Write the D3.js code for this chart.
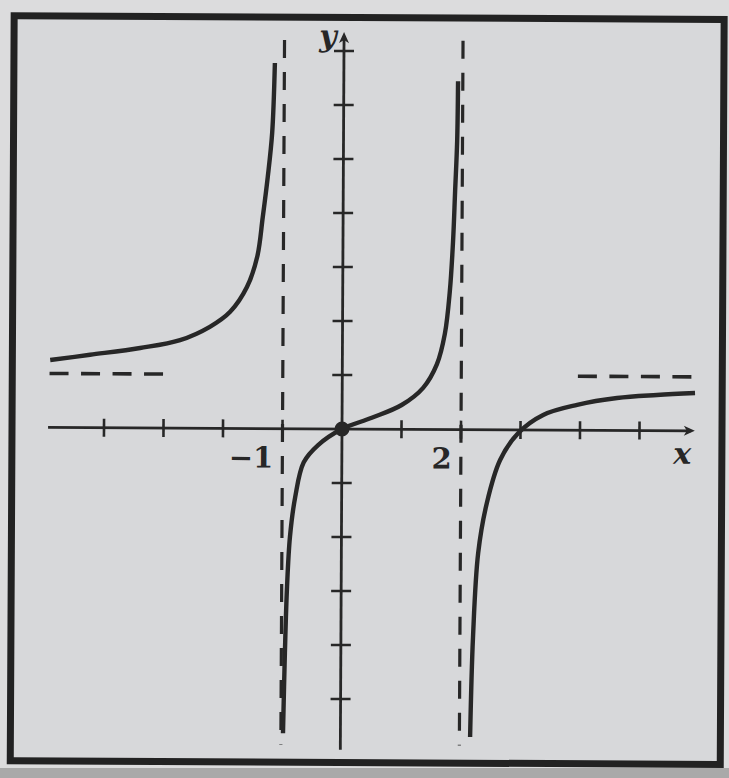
<!DOCTYPE html>
<html>
<head>
<meta charset="utf-8">
<script src="https://cdn.jsdelivr.net/npm/d3@7"></script>
<style>
  html, body { margin: 0; padding: 0; background: #dcdcdd; }
  svg { display: block; }
</style>
</head>
<body>
<svg id="chart" width="729" height="778"></svg>
<script>
// Graph of a rational function with vertical asymptotes x = -1, x = 2
// and horizontal asymptote y = 1.

const xTicks = [-4, -3, -2, -1, 1, 2, 3, 4, 5];
const yTicks = [-5, -4, -3, -2, -1, 1, 2, 3, 4, 5, 6, 7];
const xLabels = [{ v: -1, t: "\u22121" }, { v: 2, t: "2" }];

const verticalAsymptotes = [-1, 2];
const horizontalAsymptote = 1;
const hAsymSpans = [[-4.92, -2.98], [3.96, 5.97]];

// branch left of x = -1
const leftBranch = [
  [-4.91, 1.25], [-4.24, 1.35], [-3.40, 1.48], [-2.73, 1.63], [-2.23, 1.88],
  [-1.89, 2.16], [-1.61, 2.62], [-1.44, 3.18], [-1.35, 3.92], [-1.27, 4.66],
  [-1.20, 5.47], [-1.16, 6.77]
];
// branch between x = -1 and x = 2, through the origin
const middleBranch = [
  [-0.965, -5.64], [-0.94, -4.15], [-0.91, -2.93], [-0.865, -2.0], [-0.78, -1.26],
  [-0.64, -0.62], [-0.40, -0.30], [0, 0], [0.50, 0.21], [1.0, 0.45],
  [1.36, 0.77], [1.59, 1.21], [1.72, 1.77], [1.80, 2.56], [1.85, 3.49],
  [1.88, 4.41], [1.91, 5.34], [1.92, 6.45]
];
// branch right of x = 2
const rightBranch = [
  [2.18, -5.69], [2.22, -3.84], [2.30, -2.28], [2.44, -1.36], [2.66, -0.56],
  [2.96, -0.06], [3.38, 0.28], [3.95, 0.47], [4.62, 0.60], [5.29, 0.66],
  [5.93, 0.70]
];

const xAxisExtent = [-4.94, 5.93];
const yAxisExtent = [-5.94, 7.35];
const vAsymExtent = [-5.85, 7.2];

const ink = "#272727";
const serif = "'DejaVu Serif', 'Liberation Serif', serif";
const svg = d3.select("#chart");

// paper
svg.append("rect").attr("x", 0).attr("y", 0).attr("width", 729).attr("height", 778)
  .attr("fill", "#dcdcdd");
svg.append("rect").attr("x", 0).attr("y", 768).attr("width", 729).attr("height", 10)
  .attr("fill", "#a9a9a9");

const x = d3.scaleLinear().domain([-5, 6]).range([342 - 5 * 59.5, 342 + 6 * 59.5]);
const y = d3.scaleLinear().domain([-6, 7]).range([429 + 6 * 54, 429 - 7 * 54]);

const g = svg.append("g").attr("transform", `rotate(0.3, ${x(0)}, ${y(0)})`);

// frame
g.append("rect")
  .attr("x", 12).attr("y", 17.5).attr("width", 710).attr("height", 745)
  .attr("fill", "#d7d8da").attr("stroke", "#222").attr("stroke-width", 7);

// asymptotes
g.selectAll(".vasym").data(verticalAsymptotes).join("line")
  .attr("x1", d => x(d)).attr("x2", d => x(d))
  .attr("y1", y(vAsymExtent[1])).attr("y2", y(vAsymExtent[0]))
  .attr("stroke", ink).attr("stroke-width", 3.2)
  .attr("stroke-dasharray", "18 14");

g.selectAll(".hasym").data(hAsymSpans).join("line")
  .attr("x1", d => x(d[0])).attr("x2", d => x(d[1]))
  .attr("y1", y(horizontalAsymptote)).attr("y2", y(horizontalAsymptote))
  .attr("stroke", ink).attr("stroke-width", 3.6)
  .attr("stroke-dasharray", "19 12.5");

// axes
g.append("line")
  .attr("x1", x(xAxisExtent[0])).attr("x2", x(xAxisExtent[1]) - 4)
  .attr("y1", y(0)).attr("y2", y(0))
  .attr("stroke", ink).attr("stroke-width", 2.8);
g.append("line")
  .attr("x1", x(0)).attr("x2", x(0))
  .attr("y1", y(yAxisExtent[0])).attr("y2", y(yAxisExtent[1]) + 4)
  .attr("stroke", ink).attr("stroke-width", 2.8);

// arrow heads
const xe = x(xAxisExtent[1]), ye = y(yAxisExtent[1]);
g.append("path")
  .attr("d", `M${xe},${y(0)} L${xe - 11},${y(0) - 5} L${xe - 8},${y(0)} L${xe - 11},${y(0) + 5} Z`)
  .attr("fill", ink);
g.append("path")
  .attr("d", `M${x(0)},${ye} L${x(0) - 5},${ye + 11} L${x(0)},${ye + 8} L${x(0) + 5},${ye + 11} Z`)
  .attr("fill", ink);

// ticks
g.selectAll(".xtick").data(xTicks).join("line")
  .attr("x1", d => x(d)).attr("x2", d => x(d))
  .attr("y1", y(0) - 9).attr("y2", y(0) + 9)
  .attr("stroke", ink).attr("stroke-width", 2.6);
g.selectAll(".ytick").data(yTicks).join("line")
  .attr("x1", x(0) - 10).attr("x2", x(0) + 10)
  .attr("y1", d => y(d)).attr("y2", d => y(d))
  .attr("stroke", ink).attr("stroke-width", 2.4);

// tick labels
g.selectAll(".xlab").data(xLabels).join("text")
  .attr("x", d => x(d.v) - 9).attr("y", y(0) + 39)
  .attr("text-anchor", "end")
  .attr("font-family", serif)
  .attr("font-weight", "bold").attr("font-size", 29)
  .attr("fill", ink)
  .text(d => d.t);

// axis names
g.append("text")
  .attr("x", x(5.72)).attr("y", y(0) + 33)
  .attr("text-anchor", "middle")
  .attr("font-family", serif)
  .attr("font-style", "italic").attr("font-weight", "bold").attr("font-size", 30)
  .attr("fill", ink).text("x");
g.append("text")
  .attr("x", x(0) - 16).attr("y", y(7.0) - 5)
  .attr("text-anchor", "middle")
  .attr("font-family", serif)
  .attr("font-style", "italic").attr("font-weight", "bold").attr("font-size", 30)
  .attr("fill", ink).text("y");

// curve branches
const line = d3.line()
  .x(d => x(d[0])).y(d => y(d[1]))
  .curve(d3.curveCatmullRom.alpha(0.5));

g.selectAll(".branch").data([leftBranch, middleBranch, rightBranch]).join("path")
  .attr("d", line)
  .attr("fill", "none").attr("stroke", ink)
  .attr("stroke-width", 4.4).attr("stroke-linecap", "butt");

// point at the origin
g.append("circle").attr("cx", x(0)).attr("cy", y(0)).attr("r", 7.5).attr("fill", ink);
</script>
</body>
</html>
